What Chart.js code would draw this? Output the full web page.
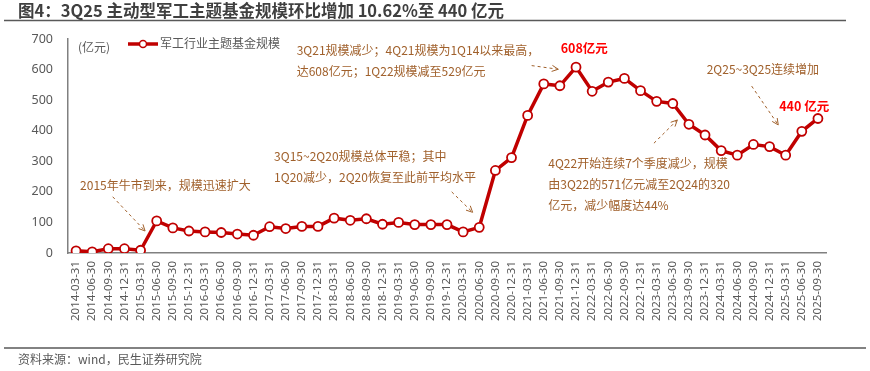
<!DOCTYPE html>
<html>
<head>
<meta charset="utf-8">
<script src="https://cdn.jsdelivr.net/npm/chart.js@4"></script>
<style>
  html, body { margin: 0; padding: 0; background: #fff; }
  #wrap { position: relative; width: 870px; height: 371px; }
</style>
</head>
<body>
<div id="wrap"><canvas id="fundChart" width="870" height="371"></canvas></div>
<script>
// Quarter-end dates
const quarters = [
    '2014-03-31','2014-06-30','2014-09-30','2014-12-31',
    '2015-03-31','2015-06-30','2015-09-30','2015-12-31',
    '2016-03-31','2016-06-30','2016-09-30','2016-12-31',
    '2017-03-31','2017-06-30','2017-09-30','2017-12-31',
    '2018-03-31','2018-06-30','2018-09-30','2018-12-31',
    '2019-03-31','2019-06-30','2019-09-30','2019-12-31',
    '2020-03-31','2020-06-30','2020-09-30','2020-12-31',
    '2021-03-31','2021-06-30','2021-09-30','2021-12-31',
    '2022-03-31','2022-06-30','2022-09-30','2022-12-31',
    '2023-03-31','2023-06-30','2023-09-30','2023-12-31',
    '2024-03-31','2024-06-30','2024-09-30','2024-12-31',
    '2025-03-31','2025-06-30','2025-09-30'
];

// Fund size (100 million yuan)
const fundSize = [
    7, 4, 14, 14,
    9, 105, 82, 72,
    69, 67, 62, 58,
    86, 80, 87, 87,
    114, 107, 112, 94,
    100, 93, 93, 93,
    69, 84, 270, 312,
    450, 553, 547, 608,
    529, 559, 571, 531,
    496, 489, 421, 386,
    335, 320, 355, 348,
    320, 398, 440
];

const yTicks = [0, 100, 200, 300, 400, 500, 600, 700];

// Notes: [category index, value] anchors
const notes = [
    { lines: ['2015年牛市到来，规模迅速扩大'], at: [0.25, 222], arrow: [[2.27, 184], [4.28, 72]] },
    { lines: ['3Q15~2Q20规模总体平稳；其中', '1Q20减少，2Q20恢复至此前平均水平'], at: [12.28, 315], arrow: [[23.29, 200], [24.59, 133]] },
    { lines: ['3Q21规模减少；4Q21规模为1Q14以来最高，', '达608亿元；1Q22规模减至529亿元'], at: [13.68, 664], arrow: [[28.25, 613], [29.9, 601]] },
    { lines: ['4Q22开始连续7个季度减少，规模', '由3Q22的571亿元减至2Q24的320', '亿元，减少幅度达44%'], at: [29.28, 293], arrow: [[35.83, 359], [37.28, 435]] },
    { lines: ['2Q25~3Q25连续增加'], at: [39.1, 599], arrow: [[41.89, 546], [43.54, 419]] }
];
const redLabels = [
    { text: '608亿元', at: [30.05, 671] },
    { text: '440 亿元', at: [43.6, 481] }
];

const lineRed = '#C00000';
const noteBrown = '#A0602B';
const grayText = '#595959';
const cjk = '"Noto Sans CJK SC", "Noto Sans", sans-serif';

const decorPlugin = {
    id: 'decor',
    afterDraw(chart) {
        const ctx = chart.ctx;
        const xs = chart.scales.x, ys = chart.scales.y;
        const px = i => xs.getPixelForValue(0) + i * (xs.getPixelForValue(1) - xs.getPixelForValue(0));
        const py = v => ys.getPixelForValue(v);
        ctx.save();

        // Title and rules
        ctx.fillStyle = '#3F3F3F';
        ctx.font = 'bold 16.5px ' + cjk;
        ctx.textBaseline = 'middle';
        ctx.textAlign = 'left';
        ctx.fillText('图4：3Q25 主动型军工主题基金规模环比增加 10.62%至 440 亿元', 18, 11);
        ctx.strokeStyle = '#595959';
        ctx.lineWidth = 1.5;
        ctx.beginPath(); ctx.moveTo(4, 20.5); ctx.lineTo(846, 20.5); ctx.stroke();
        ctx.beginPath(); ctx.moveTo(4, 348); ctx.lineTo(866, 348); ctx.stroke();
        ctx.fillStyle = grayText;
        ctx.font = '12px ' + cjk;
        ctx.fillText('资料来源：wind，民生证券研究院', 18, 359);

        // Unit and legend
        ctx.fillText('(亿元)', 78, 47);
        ctx.strokeStyle = lineRed;
        ctx.lineWidth = 3.5;
        ctx.beginPath(); ctx.moveTo(128, 44); ctx.lineTo(158, 44); ctx.stroke();
        ctx.fillStyle = '#fff';
        ctx.lineWidth = 1.5;
        ctx.beginPath(); ctx.arc(143, 44, 3.5, 0, Math.PI * 2); ctx.fill(); ctx.stroke();
        ctx.fillStyle = grayText;
        ctx.fillText('军工行业主题基金规模', 160, 43);

        // Notes with dashed arrows
        ctx.font = '12px ' + cjk;
        notes.forEach(n => {
            ctx.fillStyle = noteBrown;
            n.lines.forEach((t, k) => ctx.fillText(t, px(n.at[0]), py(n.at[1]) + k * 21));
            const [a, b] = n.arrow;
            const x1 = px(a[0]), y1 = py(a[1]), x2 = px(b[0]), y2 = py(b[1]);
            ctx.strokeStyle = noteBrown;
            ctx.lineWidth = 1;
            ctx.setLineDash([3, 3]);
            ctx.beginPath(); ctx.moveTo(x1, y1); ctx.lineTo(x2, y2); ctx.stroke();
            ctx.setLineDash([]);
            const ang = Math.atan2(y2 - y1, x2 - x1);
            ctx.beginPath();
            ctx.moveTo(x2 - 7 * Math.cos(ang - 0.45), y2 - 7 * Math.sin(ang - 0.45));
            ctx.lineTo(x2, y2);
            ctx.lineTo(x2 - 7 * Math.cos(ang + 0.45), y2 - 7 * Math.sin(ang + 0.45));
            ctx.stroke();
        });

        // Red value labels
        ctx.fillStyle = '#FF0000';
        ctx.font = 'bold 12.5px ' + cjk;
        redLabels.forEach(l => ctx.fillText(l.text, px(l.at[0]), py(l.at[1])));

        ctx.restore();
    }
};

const chartCtx = document.getElementById('fundChart').getContext('2d');
new Chart(chartCtx, {
    type: 'line',
    data: {
        labels: quarters,
        datasets: [{
            label: '军工行业主题基金规模',
            data: fundSize,
            borderColor: lineRed,
            borderWidth: 3.5,
            pointRadius: 4.5,
            pointBorderWidth: 1.8,
            pointBackgroundColor: '#fff',
            pointBorderColor: lineRed,
            tension: 0
        }]
    },
    options: {
        responsive: false,
        animation: false,
        events: [],
        layout: { padding: { left: 0, right: 44, top: 39, bottom: 48 } },
        plugins: { legend: { display: false }, tooltip: { enabled: false } },
        scales: {
            x: {
                type: 'category',
                offset: true,
                grid: { display: false, drawTicks: false },
                border: { display: true, color: '#808080', width: 1.5 },
                ticks: {
                    autoSkip: false,
                    minRotation: 90,
                    maxRotation: 90,
                    padding: 8,
                    color: grayText,
                    font: { size: 11.5, family: '"Noto Sans", sans-serif' }
                },
                afterFit(scale) { scale.height = 70; }
            },
            y: {
                min: 0,
                max: 700,
                afterBuildTicks(scale) { scale.ticks = yTicks.map(v => ({ value: v })); },
                grid: { display: false, drawTicks: false },
                border: { display: true, color: '#808080', width: 1.5 },
                ticks: {
                    padding: 15,
                    color: grayText,
                    font: { size: 12.5, family: '"Noto Sans", sans-serif' }
                },
                afterFit(scale) { scale.width = 68; }
            }
        }
    },
    plugins: [decorPlugin]
});
</script>
</body>
</html>
